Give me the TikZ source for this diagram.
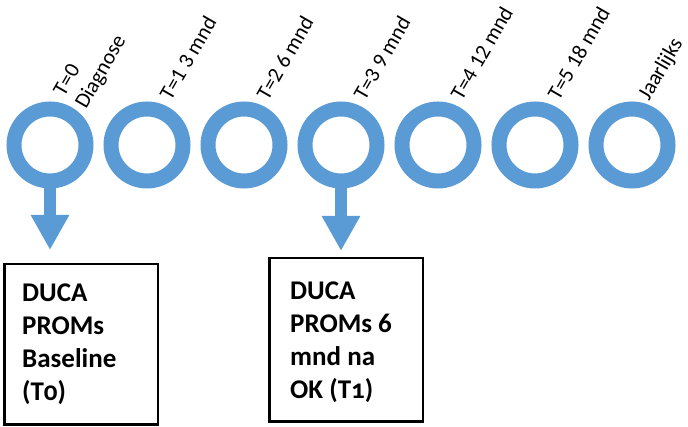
\documentclass[tikz,border=0pt]{standalone}
\usepackage{fontspec}
\setmainfont{Carlito}
\usetikzlibrary{arrows.meta,calc}
\definecolor{ringblue}{HTML}{5B9BD5}
\begin{document}
\begin{tikzpicture}[x=1pt,y=1pt,
  ring/.style={circle, draw=ringblue, line width=15pt, minimum size=72pt, inner sep=0pt},
  tlabel/.style={rotate=60, anchor=base west, inner sep=0pt, font=\fontsize{21.5}{25}\selectfont, align=left},
  box/.style={draw=black, line width=2.5pt, inner sep=0pt, anchor=north west, minimum width=153.5pt},
  boxtext/.style={anchor=west, inner sep=0pt, align=left, font=\fontsize{27}{33}\selectfont\bfseries},
  down/.style={draw=ringblue, line width=12pt, -{Triangle[width=36pt,length=35pt]}, shorten <=-3pt}
]
\useasboundingbox (0,0) rectangle (688,427);
\foreach \i/\x in {1/50,2/147,3/244,4/341,5/438,6/535,7/632}{
  \node[ring] (r\i) at (\x,282) {};
}
\node[tlabel] (l1) at (86,317) {T=0\\Diagnose};
\node[tlabel] (l2) at (171,325) {T=1 3 mnd};
\node[tlabel] (l3) at (268,325) {T=2 6 mnd};
\node[tlabel] (l4) at (365,325) {T=3 9 mnd};
\node[tlabel] (l5) at (462,325) {T=4 12 mnd};
\node[tlabel] (l6) at (559,325) {T=5 18 mnd};
\node[tlabel] (l7) at (649,325) {Jaarlijks};

\node[box, minimum height=160.5pt] (b1) at (3,164) {};
\node[box, minimum height=163.5pt] (b2) at (268,170) {};
\node[boxtext] (t1) at ($(b1.west)+(19,0)$) {DUCA\\PROMs\\Baseline\\({\addfontfeature{Numbers=OldStyle}T0})};
\node[boxtext] (t2) at ($(b2.west)+(22,-2)$) {DUCA\\PROMs 6\\mnd na\\OK ({\addfontfeature{Numbers=OldStyle}T1})};

\draw[down, shorten >=13pt] (r1.south) -- (r1.south |- b1.north);
\draw[down, shorten >=6pt] (r4.south) -- (r4.south |- b2.north);
\end{tikzpicture}
\end{document}
